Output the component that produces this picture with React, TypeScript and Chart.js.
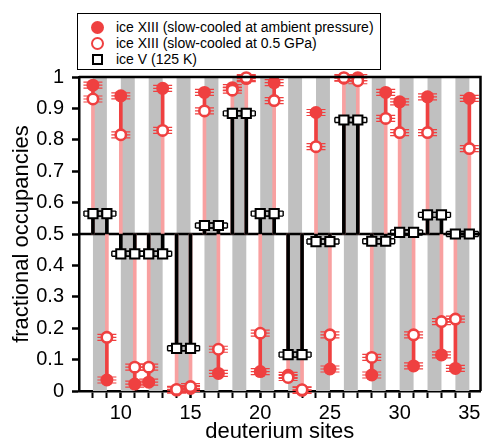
import React, { useEffect, useRef } from 'react';
import { Chart, registerables } from 'chart.js';

Chart.register(...registerables);

// ---- data ----
const sites = [8, 9, 10, 11, 12, 13, 14, 15, 16, 17, 18, 19, 20, 21, 22, 23, 24, 25, 26, 27, 28, 29, 30, 31, 32, 33, 34, 35];
// ice XIII slow-cooled at ambient pressure (filled circles)
const ambient = [0.974, 0.035, 0.94, 0.022, 0.028, 0.964, 0.003, 0.008, 0.951, 0.056, 0.966, 0.995, 0.062, 0.982, 0.05, 0.002, 0.887, 0.07, 0.996, 0.998, 0.051, 0.951, 0.921, 0.08, 0.937, 0.115, 0.072, 0.932];
// ice XIII slow-cooled at 0.5 GPa (open circles)
const gpa05 = [0.93, 0.171, 0.816, 0.076, 0.076, 0.83, 0.005, 0.014, 0.892, 0.133, 0.958, 0.998, 0.184, 0.925, 0.043, 0.004, 0.778, 0.179, 0.998, 0.988, 0.107, 0.868, 0.823, 0.179, 0.823, 0.221, 0.229, 0.772];
// ice V (125 K) (open squares)
const iceV = [0.565, 0.565, 0.437, 0.437, 0.437, 0.437, 0.136, 0.136, 0.527, 0.527, 0.884, 0.884, 0.565, 0.565, 0.116, 0.116, 0.476, 0.476, 0.863, 0.863, 0.477, 0.477, 0.505, 0.505, 0.561, 0.561, 0.5, 0.5];
const grayBands = [[8, 9], [10, 11], [12, 13], [14, 15], [16, 17], [18, 19], [20, 21], [22, 23], [24, 25], [26, 27], [28, 29], [30, 31], [32, 33], [34, 35]];
const xTickLabels = [10, 15, 20, 25, 30, 35];
const yTicks = [0, 0.1, 0.2, 0.3, 0.4, 0.5, 0.6, 0.7, 0.8, 0.9, 1];
const yTickLabels = ['0', '0.1', '0.2', '0.3', '0.4', '0.5', '0.6', '0.7', '0.8', '0.9', '1'];
const midLine = 0.5;
const legendLabels = ['ice XIII (slow-cooled at ambient pressure)', 'ice XIII (slow-cooled at 0.5 GPa)', 'ice V (125 K)'];

const RED = 'rgb(239,64,64)';
const PINK = 'rgb(248,160,160)';
const GRAY = 'rgb(192,192,192)';
const FONT = '"Liberation Sans", Arial, sans-serif';

export default function App() {
  const ref = useRef<HTMLCanvasElement | null>(null);

  useEffect(() => {
    if (!ref.current) return;
    const pinkStems = sites.map((s, i) => ({ x: s, y: [midLine, gpa05[i]] }));
    const redStems = sites.map((s, i) => ({ x: s, y: [gpa05[i], ambient[i]] }));
    const blackStems = sites.map((s, i) => ({ x: s, y: [midLine, iceV[i]] }));
    const ambPts = sites.map((s, i) => ({ x: s, y: ambient[i] }));
    const gpaPts = sites.map((s, i) => ({ x: s, y: gpa05[i] }));
    const icePts = sites.map((s, i) => ({ x: s, y: iceV[i] }));

    const bgPlugin = {
      id: 'bgPlugin',
      beforeDatasetsDraw(chart: any) {
        const { ctx, chartArea: a, scales } = chart;
        const xs = scales.x;
        const ys = scales.y;
        ctx.save();
        ctx.beginPath();
        ctx.rect(a.left, a.top, a.right - a.left, a.bottom - a.top);
        ctx.clip();
        ctx.fillStyle = GRAY;
        grayBands.forEach(([b0, b1]) => {
          const x0 = xs.getPixelForValue(b0);
          const x1 = xs.getPixelForValue(b1);
          ctx.fillRect(x0, a.top, x1 - x0, a.bottom - a.top);
        });
        ctx.restore();
        // mid line
        ctx.save();
        ctx.strokeStyle = '#000';
        ctx.lineWidth = 2.5;
        const ym = ys.getPixelForValue(midLine);
        ctx.beginPath();
        ctx.moveTo(a.left, ym);
        ctx.lineTo(a.right, ym);
        ctx.stroke();
        ctx.restore();
        // error-bar caps behind markers
        ctx.save();
        chart.data.datasets.forEach((ds: any, di: number) => {
          if (!ds.capStyle) return;
          const meta = chart.getDatasetMeta(di);
          ctx.strokeStyle = ds.capColor;
          meta.data.forEach((el: any) => {
            const px = el.x;
            const py = el.y;
            ctx.beginPath();
            if (ds.capStyle === 'circle') {
              ctx.lineWidth = 1.2;
              [-3, 0, 3].forEach((dy) => {
                ctx.moveTo(px - 9.5, py + dy);
                ctx.lineTo(px + 9.5, py + dy);
              });
            } else {
              ctx.lineWidth = 1.4;
              ctx.moveTo(px - 9, py - 2.5);
              ctx.lineTo(px + 9, py - 2.5);
              ctx.moveTo(px - 9, py + 2.5);
              ctx.lineTo(px + 9, py + 2.5);
              ctx.moveTo(px - 9, py - 2.5);
              ctx.lineTo(px - 9, py + 2.5);
              ctx.moveTo(px + 9, py - 2.5);
              ctx.lineTo(px + 9, py + 2.5);
            }
            ctx.stroke();
          });
        });
        ctx.restore();
      },
      afterDatasetsDraw(chart: any) {
        const { ctx, chartArea: a } = chart;
        ctx.save();
        ctx.strokeStyle = '#000';
        ctx.lineWidth = 2.5;
        ctx.beginPath();
        ctx.moveTo(a.left, a.top);
        ctx.lineTo(a.right, a.top);
        ctx.lineTo(a.right, a.bottom);
        ctx.stroke();
        ctx.restore();
      },
    };

    const barCommon = { type: 'bar', barThickness: 3, grouped: false, borderWidth: 0, borderSkipped: false };

    const chart = new Chart(ref.current, {
      type: 'scatter',
      data: {
        datasets: [
          { ...barCommon, label: 'pink', data: pinkStems, backgroundColor: PINK, order: 6 } as any,
          { ...barCommon, label: 'red', data: redStems, backgroundColor: RED, order: 5 } as any,
          { ...barCommon, label: 'black', data: blackStems, backgroundColor: '#000', order: 4 } as any,
          {
            type: 'scatter', label: legendLabels[2], data: icePts, pointStyle: 'rect', pointRadius: 6.5,
            pointBorderWidth: 2, pointBackgroundColor: '#fff', pointBorderColor: '#000', order: 3, clip: false,
            capStyle: 'square', capColor: '#000',
          } as any,
          {
            type: 'scatter', label: legendLabels[0], data: ambPts, pointStyle: 'circle', pointRadius: 6.5,
            pointBorderWidth: 0, pointBackgroundColor: RED, pointBorderColor: RED, order: 2, clip: false,
            capStyle: 'circle', capColor: RED,
          } as any,
          {
            type: 'scatter', label: legendLabels[1], data: gpaPts, pointStyle: 'circle', pointRadius: 5.2,
            pointBorderWidth: 2.6, pointBackgroundColor: '#fff', pointBorderColor: RED, order: 1, clip: false,
            capStyle: 'circle', capColor: RED,
          } as any,
        ],
      },
      options: {
        animation: false,
        responsive: false,
        events: [],
        layout: { padding: { top: 77, right: 1, left: 0, bottom: 0 } },
        plugins: { legend: { display: false }, tooltip: { enabled: false } },
        scales: {
          x: {
            type: 'linear',
            min: 7,
            max: 35.8,
            offset: false,
            z: 1,
            afterBuildTicks: (axis: any) => {
              axis.ticks = sites.map((v) => ({ value: v }));
            },
            afterFit: (s: any) => {
              s.height = 50;
            },
            grid: {
              display: true,
              offset: false,
              drawOnChartArea: false,
              drawTicks: true,
              tickLength: 7,
              tickColor: '#000',
              tickWidth: (c: any) => (c.tick && xTickLabels.includes(c.tick.value) ? 2.5 : 2),
            },
            border: { display: true, color: '#000', width: 2.5 },
            ticks: {
              autoSkip: false,
              maxRotation: 0,
              color: '#000',
              padding: 3,
              font: { family: FONT, size: 20 },
              callback: (v: any) => (xTickLabels.includes(Number(v)) ? String(v) : ''),
            },
            title: {
              display: true,
              text: 'deuterium sites',
              color: '#000',
              font: { family: FONT, size: 22, lineHeight: 0.8 },
              padding: { top: 0, bottom: 0 },
            },
          },
          y: {
            type: 'linear',
            min: 0,
            max: 1,
            z: 1,
            afterBuildTicks: (axis: any) => {
              axis.ticks = yTicks.map((v) => ({ value: v }));
            },
            afterFit: (s: any) => {
              s.width = 79;
            },
            grid: {
              display: true,
              drawOnChartArea: false,
              drawTicks: true,
              tickLength: 7,
              tickColor: '#000',
              tickWidth: 2.5,
            },
            border: { display: true, color: '#000', width: 2.5 },
            ticks: {
              color: '#000',
              padding: 8,
              font: { family: FONT, size: 20 },
              callback: (v: any) => {
                const i = yTicks.indexOf(Number(v));
                return i >= 0 ? yTickLabels[i] : '';
              },
            },
            title: {
              display: true,
              text: 'fractional occupancies',
              color: '#000',
              font: { family: FONT, size: 22, lineHeight: 1 },
              padding: { top: 11, bottom: 0 },
            },
          },
        },
      } as any,
      plugins: [bgPlugin],
    });
    return () => chart.destroy();
  }, []);

  const rowStyle = (top: number): React.CSSProperties => ({
    position: 'absolute', left: 0, top, height: 16, width: '100%', display: 'flex', alignItems: 'center',
  });
  const markerBox: React.CSSProperties = { width: 38, display: 'flex', justifyContent: 'center', alignItems: 'center' };

  return (
    <div style={{ position: 'absolute', left: 0, top: 0, width: 489, height: 441, background: '#fff' }}>
      <canvas ref={ref} width={489} height={441} style={{ display: 'block', width: 489, height: 441 }} />
      <div
        style={{
          position: 'absolute', left: 77, top: 13, width: 304, height: 57, boxSizing: 'border-box',
          border: '1.5px solid #000', background: '#fff', fontFamily: FONT, fontSize: 14, color: '#000',
        }}
      >
        <div style={rowStyle(5)}>
          <div style={markerBox}>
            <div style={{ width: 13, height: 13, borderRadius: '50%', background: RED }} />
          </div>
          <span style={{ whiteSpace: 'nowrap' }}>{legendLabels[0]}</span>
        </div>
        <div style={rowStyle(21)}>
          <div style={markerBox}>
            <div style={{ width: 13, height: 13, borderRadius: '50%', boxSizing: 'border-box', border: `2.6px solid ${RED}`, background: '#fff' }} />
          </div>
          <span style={{ whiteSpace: 'nowrap' }}>{legendLabels[1]}</span>
        </div>
        <div style={rowStyle(37)}>
          <div style={markerBox}>
            <div style={{ width: 11, height: 11, boxSizing: 'border-box', border: '2px solid #000', background: '#fff' }} />
          </div>
          <span style={{ whiteSpace: 'nowrap' }}>{legendLabels[2]}</span>
        </div>
      </div>
    </div>
  );
}
